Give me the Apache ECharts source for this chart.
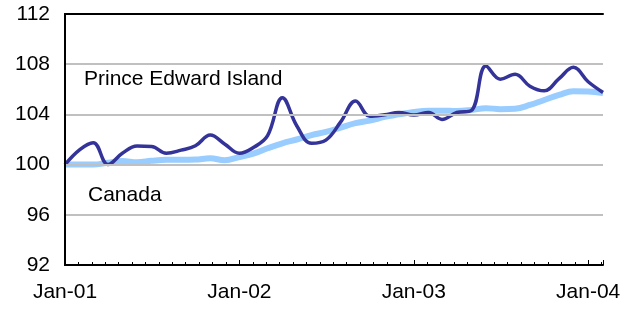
<!DOCTYPE html>
<html>
<head>
<meta charset="utf-8">
<script src="https://cdn.jsdelivr.net/npm/echarts@6/dist/echarts.min.js"></script>
<style>
html,body{margin:0;padding:0;background:#fff;}
#chart{width:638px;height:310px;}
</style>
</head>
<body>
<div id="chart"></div>
<script>
// monthly observations, Jan 2001 to Feb 2004
var months = ['2001-01','2001-02','2001-03','2001-04','2001-05','2001-06','2001-07','2001-08','2001-09','2001-10','2001-11','2001-12',
  '2002-01','2002-02','2002-03','2002-04','2002-05','2002-06','2002-07','2002-08','2002-09','2002-10','2002-11','2002-12',
  '2003-01','2003-02','2003-03','2003-04','2003-05','2003-06','2003-07','2003-08','2003-09','2003-10','2003-11','2003-12',
  '2004-01','2004-02'];
var pei = [100.0,101.2,101.75,100.0,100.9,101.48,101.45,100.9,101.15,101.5,102.35,101.65,
  100.9,101.4,102.3,105.33,103.1,101.7,101.95,103.4,105.07,103.85,103.97,104.15,
  103.95,104.15,103.6,104.15,104.3,107.85,106.8,107.2,106.25,105.88,106.85,107.75,
  106.6,105.75];
var canada = [100.0,100.0,100.0,100.15,100.28,100.18,100.3,100.38,100.38,100.4,100.5,100.35,
  100.6,100.9,101.3,101.7,102.0,102.35,102.6,102.95,103.3,103.5,103.8,104.0,
  104.2,104.3,104.3,104.27,104.35,104.5,104.42,104.45,104.75,105.15,105.55,105.85,
  105.82,105.7];
var tickDates = ['2001-01','2002-01','2003-01','2004-01'];
var tickLabels = ['Jan-01','Jan-02','Jan-03','Jan-04'];
var yTicks = [92, 96, 100, 104, 108, 112];
var seriesNames = ['Prince Edward Island', 'Canada'];

function dayOf(ym) {
  var p = ym.split('-');
  return Math.round((Date.UTC(+p[0], +p[1] - 1, 1) - Date.UTC(2001, 0, 1)) / 864e5);
}
var xDays = months.map(dayOf);
var tickDays = tickDates.map(dayOf);
var xMax = xDays[xDays.length - 1];
var yearLen = tickDays[1] - tickDays[0];

function pair(vals) { return vals.map(function (v, i) { return [xDays[i], v]; }); }
function labelFor(v) {
  for (var i = 0; i < tickDays.length; i++) {
    if (Math.abs(v - tickDays[i]) < 2) return tickLabels[i];
  }
  return '';
}

var chart = echarts.init(document.getElementById('chart'), null, {renderer: 'canvas'});
var font = 'Liberation Sans, Arial, sans-serif';
var frame = {show: true, lineStyle: {color: '#000', width: 2}};
chart.setOption({
  animation: false,
  backgroundColor: '#fff',
  grid: {left: 65, right: 35, top: 14, bottom: 45},
  xAxis: [{
    type: 'value', min: 0, max: xMax, interval: yearLen / 13,
    axisLine: frame,
    axisTick: {show: true, inside: true, length: 3, lineStyle: {color: '#000', width: 1}},
    axisLabel: {margin: 17, color: '#000', fontSize: 21, fontFamily: font, formatter: labelFor, showMaxLabel: false},
    splitLine: {show: false},
    z: 5
  }, {
    type: 'value', min: 0, max: xMax, interval: yearLen, position: 'bottom',
    axisLine: {show: false},
    axisTick: {show: true, inside: true, length: 5, lineStyle: {color: '#000', width: 1}},
    axisLabel: {show: false}, splitLine: {show: false}, z: 5
  }, {
    type: 'value', min: 0, max: xMax, position: 'top',
    axisLine: frame, axisTick: {show: false}, axisLabel: {show: false}, splitLine: {show: false}, z: 5
  }],
  yAxis: [{
    type: 'value',
    min: yTicks[0], max: yTicks[yTicks.length - 1], interval: 4,
    axisLine: frame,
    axisTick: {show: false},
    axisLabel: {margin: 15, color: '#000', fontSize: 21, fontFamily: font},
    splitLine: {show: true, lineStyle: {color: '#c0c0c0', width: 2}},
    z: 5
  }, {
    type: 'value', position: 'right',
    min: yTicks[0], max: yTicks[yTicks.length - 1], interval: 4,
    axisLine: frame, axisTick: {show: false}, axisLabel: {show: false}, splitLine: {show: false}, z: 5
  }],
  series: [
    {
      name: seriesNames[1], type: 'line', data: pair(canada), smooth: 0.4, symbol: 'none',
      lineStyle: {color: '#99ccff', width: 6}, z: 2
    },
    {
      name: seriesNames[0], type: 'line', data: pair(pei), smooth: 0.4, symbol: 'none',
      lineStyle: {color: '#333399', width: 3.5}, z: 3
    }
  ],
  graphic: [
    {type: 'text', left: 84, top: 69, style: {text: seriesNames[0], fill: '#000', font: '21px ' + font}},
    {type: 'text', left: 88, top: 185, style: {text: seriesNames[1], fill: '#000', font: '21px ' + font}}
  ]
});
</script>
</body>
</html>
